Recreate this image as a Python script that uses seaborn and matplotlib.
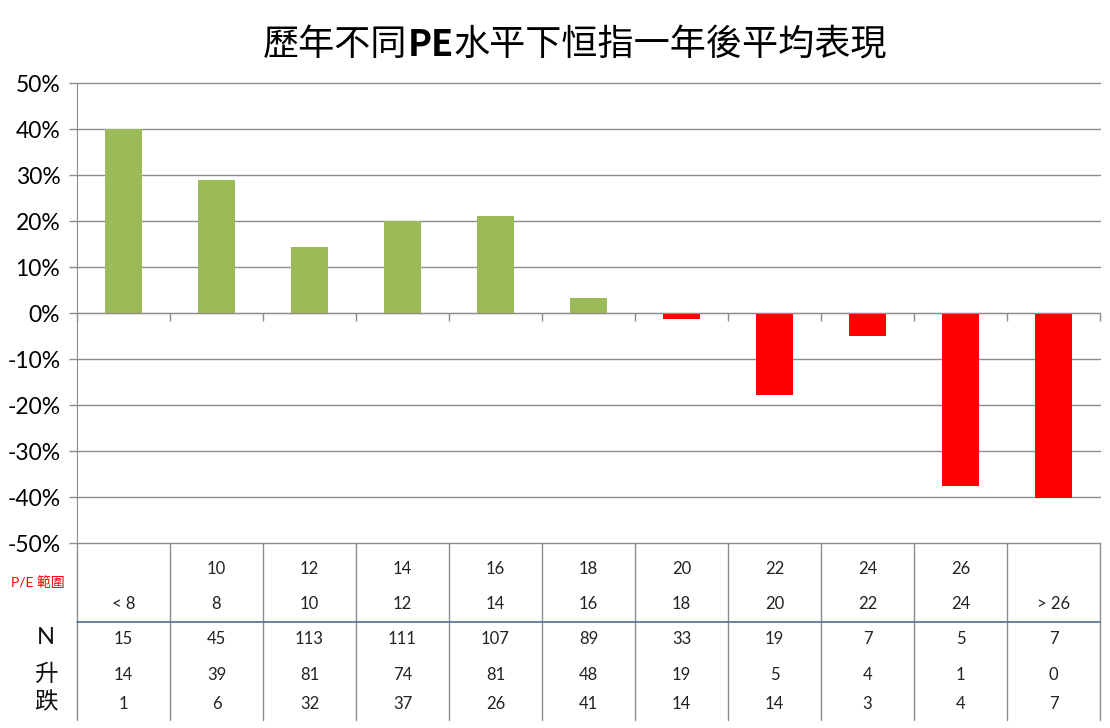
import numpy as np
import pandas as pd
import seaborn as sns
from matplotlib import pyplot as plt
from matplotlib import transforms

# chart data
pe_high = ["", "10", "12", "14", "16", "18", "20", "22", "24", "26", ""]
pe_low = ["< 8", "8", "10", "12", "14", "16", "18", "20", "22", "24", "> 26"]
returns = [40.0, 28.9, 14.4, 20.1, 21.1, 3.3, -1.2, -17.9, -4.9, -37.5, -40.3]
n_count = [15, 45, 113, 111, 107, 89, 33, 19, 7, 5, 7]
up_count = [14, 39, 81, 74, 81, 48, 19, 5, 4, 1, 0]
down_count = [1, 6, 32, 37, 26, 41, 14, 14, 3, 4, 7]
y_ticks = [-50, -40, -30, -20, -10, 0, 10, 20, 30, 40, 50]
title_parts = ["歷年不同", "PE", "水平下恒指一年後平均表現"]

GREEN = "#9BBB59"
RED = "#FF0000"
GRID = "#8C8C8C"


def draw_title(fig, center_x, y):
    '''
    Draws the title in pieces so that "PE" can be bold
    '''
    cjk = ['Noto Sans CJK TC', 'DejaVu Sans']
    weights = ['normal', 'bold', 'normal']
    renderer = fig.canvas.get_renderer()
    texts = []
    for part, w in zip(title_parts, weights):
        t = fig.text(0, y, part, fontsize=26, weight=w, family=cjk,
                     ha='left', va='center', color='black')
        texts.append(t)
    widths = [t.get_window_extent(renderer).width / fig.bbox.width for t in texts]
    x = center_x - sum(widths) / 2
    for t, w in zip(texts, widths):
        t.set_x(x)
        x += w


def main():
    sns.set_style("white")
    plt.rcParams['font.family'] = ['Lato', 'Noto Sans CJK TC', 'DejaVu Sans']

    df = pd.DataFrame({
        'range': [f"{lo}-{hi}" for lo, hi in zip(pe_low, pe_high)],
        'ret': returns,
    })
    colors = [GREEN if v >= 0 else RED for v in returns]

    fig = plt.figure(figsize=(11.1, 7.28), dpi=100)
    ax = fig.add_axes([77 / 1110, 1 - 543 / 728, 1023 / 1110, 460 / 728])

    sns.barplot(data=df, x='range', y='ret', hue='range', palette=colors,
                width=0.39, legend=False, ax=ax, saturation=1, linewidth=0)

    ax.set_xlim(-0.5, len(returns) - 0.5)
    ax.set_ylim(-50, 50)
    ax.set_yticks(y_ticks)
    ax.set_yticklabels([f"{t}%" for t in y_ticks], fontsize=16.5, color='black')
    ax.set_xlabel('')
    ax.set_ylabel('')

    # grid lines
    ax.set_axisbelow(True)
    ax.yaxis.grid(True, color=GRID, linewidth=1)
    for line in ax.get_ygridlines():
        line.set_clip_on(False)

    # x axis on the zero line with boundary ticks
    ax.spines['bottom'].set_position(('data', 0))
    ax.spines['bottom'].set_color(GRID)
    ax.spines['left'].set_color(GRID)
    ax.spines['top'].set_visible(False)
    ax.spines['right'].set_visible(False)
    bounds = np.arange(len(returns) + 1) - 0.5
    ax.set_xticks(bounds)
    ax.set_xticklabels([''] * len(bounds))
    ax.tick_params(axis='x', direction='out', length=6, color=GRID, width=1, bottom=True)
    ax.tick_params(axis='y', direction='out', length=6, color=GRID, width=1, pad=6, left=True)

    # table below the axes
    trans = transforms.blended_transform_factory(ax.transData, ax.transAxes)
    for b in bounds:
        ax.plot([b, b], [0, -0.385], transform=trans, color=GRID,
                linewidth=1, clip_on=False)
    ax.plot([-0.5, len(returns) - 0.5], [-0.1717, -0.1717], transform=trans,
            color="#4F6D9A", linewidth=1.2, clip_on=False)

    rows = [(pe_high, -0.057), (pe_low, -0.133), (n_count, -0.2085),
            (up_count, -0.2868), (down_count, -0.3498)]
    for values, yy in rows:
        for i, v in enumerate(values):
            ax.text(i, yy, str(v), transform=trans, ha='center', va='center',
                    fontsize=12, color="#222222")

    fig.text(38 / 1110, 1 - 583 / 728, "P/E 範圍", color=RED, fontsize=10,
             ha='center', va='center')
    for label, ypx in [("N", 638), ("升", 674), ("跌", 703)]:
        fig.text(46 / 1110, 1 - ypx / 728, label, fontsize=17,
                 ha='center', va='center', color="#111111")

    draw_title(fig, 575 / 1110, 1 - 45 / 728)

    fig.savefig('out.png', dpi=100, facecolor='white')


if __name__ == '__main__':
    main()
